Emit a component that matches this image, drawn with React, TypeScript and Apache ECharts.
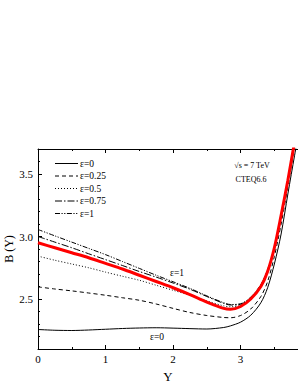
import React, { useEffect, useRef } from 'react';
import * as echarts from 'echarts';

const rapidity = [0, 0.25, 0.5, 0.75, 1, 1.25, 1.5, 1.75, 2, 2.25, 2.5, 2.75, 2.85, 3.0, 3.15, 3.3, 3.4, 3.5, 3.6, 3.7, 3.8, 3.85];
const eps0 = [2.256, 2.25, 2.248, 2.252, 2.258, 2.264, 2.268, 2.27, 2.267, 2.263, 2.26, 2.272, 2.285, 2.315, 2.37, 2.47, 2.59, 2.78, 3.02, 3.34, 3.65, 3.8];
const eps025 = [2.597, 2.58, 2.565, 2.548, 2.53, 2.51, 2.49, 2.46, 2.425, 2.392, 2.368, 2.352, 2.35, 2.368, 2.42, 2.52, 2.64, 2.84, 3.1, 3.4, 3.72, 3.88];
const eps05 = [2.843, 2.81, 2.78, 2.75, 2.715, 2.682, 2.65, 2.61, 2.57, 2.53, 2.485, 2.445, 2.438, 2.45, 2.5, 2.6, 2.72, 2.9, 3.16, 3.44, 3.75, 3.9];
const eps075 = [3.0, 2.955, 2.91, 2.862, 2.815, 2.768, 2.72, 2.675, 2.628, 2.578, 2.52, 2.465, 2.452, 2.458, 2.51, 2.61, 2.73, 2.91, 3.17, 3.45, 3.76, 3.92];
const eps1 = [3.056, 3.005, 2.955, 2.905, 2.855, 2.8, 2.745, 2.69, 2.638, 2.585, 2.525, 2.47, 2.456, 2.462, 2.515, 2.615, 2.735, 2.915, 3.17, 3.45, 3.76, 3.92];
const redCurve = [2.95, 2.91, 2.87, 2.83, 2.785, 2.74, 2.69, 2.64, 2.59, 2.535, 2.475, 2.425, 2.418, 2.44, 2.5, 2.6, 2.72, 2.91, 3.17, 3.45, 3.76, 3.92];

const seriesNames = ['ε=0', 'ε=0.25', 'ε=0.5', 'ε=0.75', 'ε=1'];
const xMajor = [0, 1, 2, 3];
const xMinor = [0.5, 1.5, 2.5, 3.5];
const yMajor = [2.5, 3.0, 3.5];
const yMinor = [2.2, 2.3, 2.4, 2.6, 2.7, 2.8, 2.9, 3.1, 3.2, 3.3, 3.4, 3.6];

const FONT = 'Liberation Serif';
const DASHES: any[] = ['solid', [4, 3], [1, 2], [7, 2, 1.5, 2], [5, 1.5, 1.2, 1.5, 1.2, 1.5]];

const pairs = (ys: number[]) => rapidity.map((x, i) => [x, ys[i]]);

export default function App() {
  const ref = useRef<HTMLDivElement>(null);
  useEffect(() => {
    if (!ref.current) return;
    const chart = echarts.init(ref.current, null, { renderer: 'svg' });
    const axisLine = { show: true, onZero: false, lineStyle: { color: '#000', width: 1 } };
    const baseX = { type: 'value', min: 0, max: 3.85, splitLine: { show: false } };
    const baseY = { type: 'value', min: 2.1, max: 3.7, splitLine: { show: false } };
    const lineSeries = (name: string, data: number[], type: any, width = 1, color = '#000') => ({
      name,
      type: 'line',
      data: pairs(data),
      smooth: 0.3,
      symbol: 'none',
      clip: true,
      lineStyle: { color, width, type },
      itemStyle: { color },
      z: 3,
    });
    const legendGraphics: any[] = [];
    seriesNames.forEach((n, i) => {
      const y = 163.5 + i * 12.5;
      legendGraphics.push({
        type: 'line',
        shape: { x1: 55, y1: y, x2: 78, y2: y },
        style: {
          stroke: '#000',
          lineWidth: 1,
          lineDash: DASHES[i] === 'solid' ? null : DASHES[i],
        },
      });
      legendGraphics.push({
        type: 'text',
        x: 80,
        y,
        style: { text: n, fontFamily: FONT, fontSize: 9.5, fill: '#000', align: 'left', verticalAlign: 'middle' },
      });
    });
    chart.setOption({
      animation: false,
      grid: { left: 38, top: 149, right: 0, bottom: 36, containLabel: false, outerBoundsMode: 'none' },
      xAxis: [
        {
          ...baseX,
          position: 'bottom',
          axisLine,
          axisTick: { inside: true, length: 4, customValues: xMajor, lineStyle: { color: '#000' } },
          axisLabel: { customValues: xMajor, fontFamily: FONT, fontSize: 11, color: '#000', margin: 4 },
          name: 'Y',
          nameLocation: 'middle',
          nameGap: 21,
          nameMoveOverlap: false,
          nameTextStyle: { fontFamily: FONT, fontSize: 13, color: '#000' },
        },
        {
          ...baseX,
          position: 'bottom',
          axisLine: { show: false },
          axisTick: { inside: true, length: 2, customValues: xMinor, lineStyle: { color: '#000' } },
          axisLabel: { show: false },
        },
        {
          ...baseX,
          position: 'top',
          axisLine,
          axisTick: { inside: true, length: 4, customValues: xMajor, lineStyle: { color: '#000' } },
          axisLabel: { show: false },
        },
        {
          ...baseX,
          position: 'top',
          axisLine: { show: false },
          axisTick: { inside: true, length: 2, customValues: xMinor, lineStyle: { color: '#000' } },
          axisLabel: { show: false },
        },
      ],
      yAxis: [
        {
          ...baseY,
          position: 'left',
          axisLine,
          axisTick: { inside: true, length: 4, customValues: yMajor, lineStyle: { color: '#000' } },
          axisLabel: {
            customValues: yMajor,
            formatter: (v: number) => v.toFixed(1),
            fontFamily: FONT,
            fontSize: 11,
            color: '#000',
            margin: 5,
          },
          name: 'B (Y)',
          nameLocation: 'middle',
          nameGap: 23,
          nameMoveOverlap: false,
          nameTextStyle: { fontFamily: FONT, fontSize: 12, color: '#000' },
        },
        {
          ...baseY,
          position: 'left',
          axisLine: { show: false },
          axisTick: { inside: true, length: 2, customValues: yMinor, lineStyle: { color: '#000' } },
          axisLabel: { show: false },
        },
      ],
      series: [
        lineSeries('ε=0', eps0, DASHES[0], 1),
        lineSeries('ε=0.25', eps025, DASHES[1], 1),
        lineSeries('ε=0.5', eps05, DASHES[2], 1),
        lineSeries('ε=0.75', eps075, DASHES[3], 1),
        lineSeries('ε=1', eps1, DASHES[4], 1),
        { ...lineSeries('fit', redCurve, 'solid', 3, '#ff0000'), z: 4 },
      ],
      graphic: [
        ...legendGraphics,
        { type: 'text', x: 177, y: 273, style: { text: 'ε=1', fontFamily: FONT, fontSize: 9.5, fill: '#000', align: 'center', verticalAlign: 'middle' } },
        { type: 'text', x: 157, y: 337, style: { text: 'ε=0', fontFamily: FONT, fontSize: 9.5, fill: '#000', align: 'center', verticalAlign: 'middle' } },
        { type: 'text', x: 252, y: 165, style: { text: '√s = 7 TeV', fontFamily: FONT, fontSize: 8, fill: '#000', align: 'center', verticalAlign: 'middle' } },
        { type: 'text', x: 251, y: 179, style: { text: 'CTEQ6.6', fontFamily: FONT, fontSize: 8, fill: '#000', align: 'center', verticalAlign: 'middle' } },
      ],
    });
    return () => chart.dispose();
  }, []);
  return (
    <div
      ref={ref}
      style={{ position: 'absolute', left: 0, top: 0, width: 298, height: 385, background: '#fff' }}
    />
  );
}
